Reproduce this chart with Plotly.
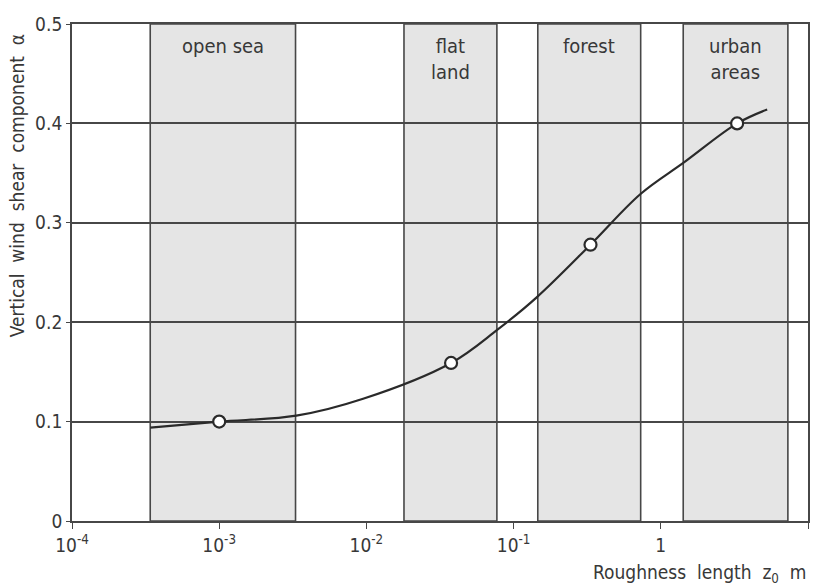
import plotly.graph_objects as go
import math

# ---- data ----
band_labels = ["open sea", "flat<br>land", "forest", "urban<br>areas"]
band_start = [3.4e-4, 0.018, 0.146, 1.42]
band_end = [3.3e-3, 0.077, 0.73, 7.3]

curve_z0 = [3.4e-4, 1.0e-3, 3.34e-3, 9.5e-3, 0.0376, 0.0769,
            0.1435, 0.333, 0.728, 1.445, 3.30, 5.28]
curve_alpha = [0.094, 0.100, 0.106, 0.123, 0.159, 0.192,
               0.225, 0.278, 0.329, 0.361, 0.400, 0.414]

point_z0 = [1.0e-3, 0.0376, 0.333, 3.30]
point_alpha = [0.100, 0.159, 0.278, 0.400]

x_tickvals = [1e-4, 1e-3, 1e-2, 1e-1, 1, 10]
x_ticktext = ["10<sup>-4</sup>", "10<sup>-3</sup>", "10<sup>-2</sup>",
              "10<sup>-1</sup>", "1", "10"]
y_tickvals = [0, 0.1, 0.2, 0.3, 0.4, 0.5]
y_ticktext = ["0", "0.1", "0.2", "0.3", "0.4", "0.5"]

FONT = "DejaVu Sans Condensed, DejaVu Sans, sans-serif"
INK = "#383838"
LINE = "#474747"

fig = go.Figure()

fig.add_trace(go.Scatter(
    x=curve_z0, y=curve_alpha, mode="lines",
    line=dict(color="#2a2a2a", width=2.2, shape="spline", smoothing=1.0),
    hoverinfo="skip", showlegend=False))

fig.add_trace(go.Scatter(
    x=point_z0, y=point_alpha, mode="markers",
    marker=dict(symbol="circle", size=12, color="white",
                line=dict(color="#2a2a2a", width=2.2)),
    showlegend=False))

shapes = []
annotations = []
for lab, s, e in zip(band_labels, band_start, band_end):
    shapes.append(dict(type="rect", xref="x", yref="y",
                       x0=s, x1=e, y0=0, y1=0.5,
                       fillcolor="#e5e5e5", line=dict(color=LINE, width=1.6),
                       layer="below"))
    annotations.append(dict(x=(math.log10(s) + math.log10(e)) / 2, y=0.5,
                            xref="x", yref="y", yanchor="top", yshift=-8,
                            text=lab, showarrow=False,
                            font=dict(family=FONT, size=20, color=INK)))

annotations.append(dict(x=-0.075, y=0.675, xref="paper", yref="paper",
                        text="Vertical  wind  shear  component  α", textangle=-90,
                        showarrow=False, xanchor="center", yanchor="middle",
                        font=dict(family=FONT, size=19, color=INK)))
annotations.append(dict(x=1.0, y=-0.105, xref="paper", yref="paper",
                        text="Roughness  length  z<sub>0</sub>  m",
                        showarrow=False, xanchor="right", yanchor="middle",
                        font=dict(family=FONT, size=19, color=INK)))

fig.update_layout(
    width=817, height=587,
    margin=dict(l=72, r=7, t=24, b=66),
    paper_bgcolor="white", plot_bgcolor="white",
    shapes=shapes, annotations=annotations,
    font=dict(family=FONT, size=19, color=INK),
    xaxis=dict(type="log", range=[-4, 1], tickvals=x_tickvals, ticktext=x_ticktext,
               showgrid=False, zeroline=False, showline=True, mirror=True,
               linecolor=LINE, linewidth=1.8, ticks="outside", ticklen=6,
               tickcolor=LINE, tickfont=dict(family=FONT, size=19, color=INK)),
    yaxis=dict(range=[0, 0.5], tickvals=y_tickvals, ticktext=y_ticktext,
               showgrid=True, gridcolor=LINE, gridwidth=1.5, zeroline=False,
               showline=True, mirror=True, linecolor=LINE, linewidth=1.8,
               ticks="outside", ticklen=4, tickcolor=LINE,
               tickfont=dict(family=FONT, size=19, color=INK)),
)

fig.write_html("out.html", config={"displayModeBar": False},
               post_script="document.body.style.margin='0';")
